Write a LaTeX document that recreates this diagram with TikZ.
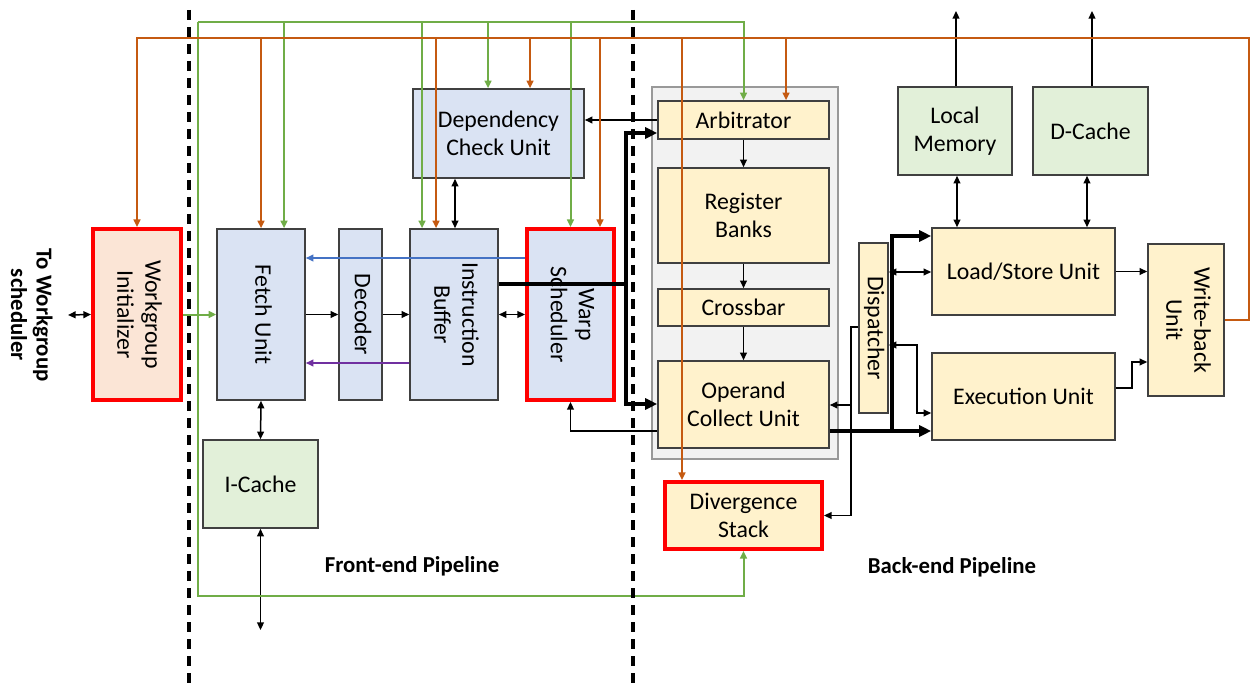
\documentclass[tikz,border=0pt]{standalone}
\usepackage{fontspec}
\setmainfont{Carlito}
\usepackage{graphicx}
\usepackage{xcolor}
\usetikzlibrary{arrows.meta}

\definecolor{fillblue}{HTML}{DAE3F3}
\definecolor{fillyel}{HTML}{FFF2CC}
\definecolor{fillgrn}{HTML}{E2F0D9}
\definecolor{fillorg}{HTML}{FBE5D6}
\definecolor{fillgray}{HTML}{F2F2F2}
\definecolor{boxline}{HTML}{404040}
\definecolor{busgrn}{HTML}{70AD47}
\definecolor{busorg}{HTML}{C55A11}
\definecolor{lineblue}{HTML}{4472C4}
\definecolor{linepurp}{HTML}{7030A0}

\newcommand{\vtxt}[1]{\rotatebox{-90}{\begin{tabular}{@{}c@{}}#1\end{tabular}}}

\begin{document}
\begin{tikzpicture}[x=0.5pt,y=-0.5pt,
    box/.style={draw=boxline, line width=0.8pt, inner sep=0pt, align=center,
                font=\fontsize{11.9}{14}\selectfont},
    sz/.style 2 args={minimum width=#1*0.5pt, minimum height=#2*0.5pt},
    redbox/.style={box, draw=red, line width=2pt},
    lbl/.style={font=\bfseries\fontsize{11.4}{12.8}\selectfont, inner sep=0pt},
    tip/.style={-{Triangle[length=3.8pt,width=3.4pt]}},
    dtip/.style={{Triangle[length=3.8pt,width=3.4pt]}-{Triangle[length=3.8pt,width=3.4pt]}},
    blk/.style={line width=0.75pt, black},
    fat/.style={line width=2pt, black},
    fattip/.style={-{Triangle[length=6pt,width=5.5pt]}},
    grn/.style={line width=1pt, busgrn},
    org/.style={line width=1pt, busorg},
    sep/.style={line width=2pt, dash pattern=on 5pt off 3.5pt}]

    \useasboundingbox (0,0) rectangle (1252,684);

    % back-end frame
    \node[draw=black!40, fill=fillgray, line width=1pt, sz={186}{372}] (core) at (745,273) {};

    % front-end
    \node[redbox, fill=fillorg, sz={88}{171}] (wi) at (137,314.5) {\vtxt{Workgroup\\Initializer}};
    \node[box, fill=fillblue, sz={88}{171}] (fetch) at (261,314.5) {\vtxt{Fetch Unit}};
    \node[box, fill=fillblue, sz={43}{171}] (dec) at (360.5,314.5) {\vtxt{Decoder}};
    \node[box, fill=fillblue, sz={88}{171}] (ib) at (454,314.5) {\vtxt{Instruction\\Buffer}};
    \node[redbox, fill=fillblue, sz={87}{171}] (ws) at (570.5,314.5) {\vtxt{Warp\\Scheduler}};
    \node[box, fill=fillblue, sz={171}{89}] (dcu) at (498.5,133.5) {Dependency\\Check Unit};
    \node[box, fill=fillgrn, sz={115}{88}] (icache) at (260.5,484) {I-Cache};

    % back-end
    \node[box, fill=fillyel, sz={171}{38}] (arb) at (743.5,120) {Arbitrator};
    \node[box, fill=fillyel, sz={171}{95}] (rb) at (743.5,215.5) {Register\\Banks};
    \node[box, fill=fillyel, sz={171}{37}] (xbar) at (743.5,307.5) {Crossbar};
    \node[box, fill=fillyel, sz={171}{87}] (ocu) at (743.5,404.5) {Operand\\Collect Unit};
    \node[redbox, fill=fillyel, sz={157}{67}] (ds) at (743.5,515.5) {Divergence\\Stack};
    \node[box, fill=fillyel, sz={29}{170}] (disp) at (873.5,328) {\vtxt{Dispatcher}};
    \node[box, fill=fillgrn, sz={114}{88}] (lm) at (955,131) {Local\\Memory};
    \node[box, fill=fillgrn, sz={115}{88}] (dc) at (1090.5,131) {D-Cache};
    \node[box, fill=fillyel, sz={183}{87}] (lsu) at (1023.5,271.5) {Load/Store Unit};
    \node[box, fill=fillyel, sz={183}{87}] (eu) at (1023.5,396.5) {Execution Unit};
    \node[box, fill=fillyel, sz={76}{152}] (wb) at (1186,320) {\vtxt{Write-back\\Unit}};

    % labels
    \node[lbl] (tows) at (29,315) {\rotatebox{-90}{\begin{tabular}{@{}c@{}}To Workgroup\\scheduler\end{tabular}}};
    \node[lbl] (fe) at (412,566) {Front-end Pipeline};
    \node[lbl] (be) at (952,567) {Back-end Pipeline};

    % free ends
    \coordinate (sched) at (68,315);
    \coordinate (imem) at (260.5,630);
    \coordinate (lmout) at (956,11);
    \coordinate (dcout) at (1092,11);

    % black connectors
    \draw [blk, dtip] (sched) to (wi.west);
    \draw [blk, tip] (fetch) to (dec);
    \draw [blk, tip] (dec) to (ib);
    \draw [blk, dtip] (ib) to (ws);
    \draw [blk, dtip] (fetch.south) to (icache.north);
    \draw [blk, dtip] (icache.south) to (imem);
    \draw [blk, dtip] (dcu.south -| 455,0) to (ib.north -| 455,0);
    \draw [blk, tip] (arb.west) to (dcu.east |- arb.west);
    \draw [blk, tip] (arb) to (rb);
    \draw [blk, tip] (rb) to (xbar);
    \draw [blk, tip] (xbar) to (ocu);
    \draw [blk, tip] (ocu.west |- 0,431) -| (ws.south);
    \draw [blk, dtip] (disp.east |- 0,272) to (lsu.west |- 0,272);
    \draw [blk, dtip] (disp.east |- 0,345) -- (917,345) |- (eu.west |- 0,413);
    \draw [blk, tip] (disp.west |- 0,327) -- (851,327) |- (ds.east);
    \draw [blk, tip] (851,405) to (ocu.east |- 0,405);
    \draw [blk, tip] (lsu.east) to (wb.west |- lsu.east);
    \draw [blk, tip] (eu.east |- 0,388) -- (1132,388) |- (wb.west |- 0,362);
    \draw [blk, dtip] (lm.south -| 957,0) to (lsu.north -| 957,0);
    \draw [blk, dtip] (dc.south -| 1087,0) to (lsu.north -| 1087,0);
    \draw [blk, tip] (lm.north -| lmout) to (lmout);
    \draw [blk, tip] (dc.north -| dcout) to (dcout);

    % issue paths
    \coordinate (issue) at (626,284);
    \draw [fat] (ib.east |- issue) to (issue);
    \draw [fat, fattip] (issue) |- (arb.west |- 0,133);
    \draw [fat, fattip] (issue) |- (ocu.west |- 0,404);
    \coordinate (exsplit) at (892,431);
    \draw [fat, fattip] (ocu.east |- exsplit) to (eu.west |- exsplit);
    \draw [fat, fattip] (exsplit) |- (lsu.west |- 0,236);

    % feedback to fetch
    \draw [line width=0.9pt, lineblue, tip] (ws.west |- 0,258) to (fetch.east |- 0,258);
    \draw [line width=0.9pt, linepurp, tip] (ib.west |- 0,363) to (fetch.east |- 0,363);

    % green bus
    \draw [grn, tip] (wi.east) to (fetch.west);
    \draw [grn, tip] (198,22) -| (arb.north);
    \draw [grn, tip] (198,22) -- (198,596) -| (ds.south);
    \foreach \x/\n in {284/fetch, 422/ib, 488/dcu, 570.5/ws}
        \draw [grn, tip] (\x,22) to (\x,22 |- \n.north);

    % orange bus
    \draw [org, tip] (wb.east) -- (1249,320) -- (1249,38) -| (wi.north);
    \foreach \x/\n in {261/fetch, 436/ib, 530/dcu, 600/ws, 682/ds, 786/arb}
        \draw [org, tip] (\x,38) to (\x,38 |- \n.north);

    % pipeline split
    \draw [sep] (189,10) to (189,684);
    \draw [sep] (633,10) to (633,684);
\end{tikzpicture}
\end{document}
